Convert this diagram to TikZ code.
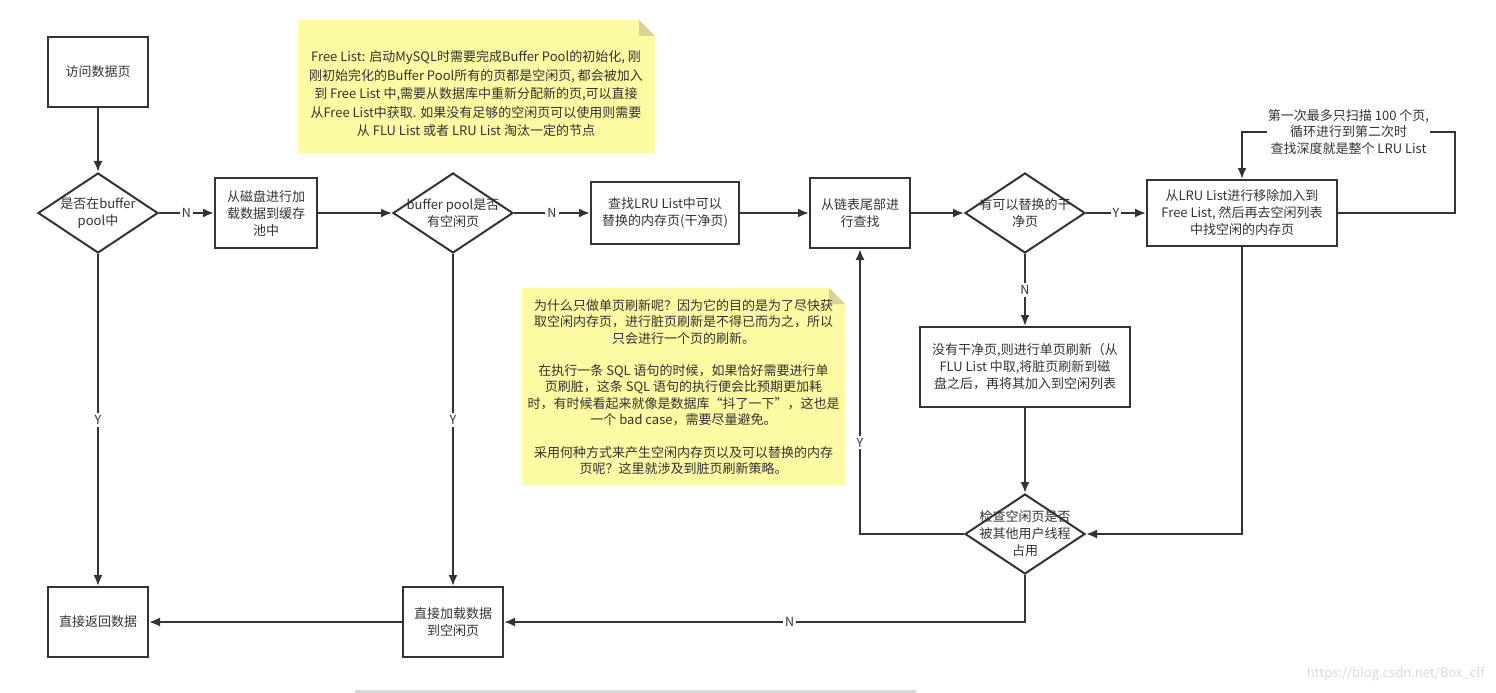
\documentclass[tikz,border=0pt]{standalone}
\usepackage{fontspec}
\setmainfont{Noto Sans CJK SC}
\usepackage{tikz}
\usetikzlibrary{arrows.meta,shapes.geometric}
\definecolor{ink}{RGB}{51,51,51}
\definecolor{notefill}{RGB}{252,250,162}
\definecolor{notefold}{RGB}{214,212,150}

\begin{document}
\begin{tikzpicture}
			[x=1pt,y=-1pt,
			every node/.style={font=\fontsize{13pt}{17pt}\selectfont,text=ink},
			proc/.style={rectangle,draw=ink,line width=2pt,fill=white,align=center,inner sep=2pt},
			decide/.style={diamond,draw=ink,line width=2pt,fill=white,minimum width=120pt,minimum height=80pt,inner sep=0pt},
			yn/.style={fill=white,inner sep=2pt,font=\fontsize{12.5pt}{14pt}\selectfont},
			edge/.style={->,>={Latex[length=11pt,width=9pt]},draw=ink,line width=2pt}]
			\useasboundingbox (0,0) rectangle (1496,693);

			% yellow notes
			\fill[notefill] (298,20) -- (639,20) -- (655,36) -- (655,153) -- (298,153) -- cycle;
			\fill[notefold] (639,20) -- (655,36) -- (639,36) -- cycle;
			\node[align=center,font=\fontsize{13pt}{18.5pt}\selectfont] (freenote) at (476,94)
			{Free List: 启动MySQL时需要完成Buffer Pool的初始化, 刚\\
			刚初始完化的Buffer Pool所有的页都是空闲页, 都会被加入\\
			到 Free List 中,需要从数据库中重新分配新的页,可以直接\\
			从Free List中获取. 如果没有足够的空闲页可以使用则需要\\
			从 FLU List 或者 LRU List 淘汰一定的节点};
			\fill[notefill] (522,288) -- (829,288) -- (845,304) -- (845,485) -- (522,485) -- cycle;
			\fill[notefold] (829,288) -- (845,304) -- (829,304) -- cycle;
			\node[align=center,font=\fontsize{13pt}{16.4pt}\selectfont] (flushnote) at (683.5,387)
			{为什么只做单页刷新呢？因为它的目的是为了尽快获\\
			取空闲内存页，进行脏页刷新是不得已而为之，所以\\
			只会进行一个页的刷新。\\[16pt]
			在执行一条 SQL 语句的时候，如果恰好需要进行单\\
			页刷脏，这条 SQL 语句的执行便会比预期更加耗\\
			时，有时候看起来就像是数据库“抖了一下”，这也是\\
			一个 bad case，需要尽量避免。\\[16pt]
			采用何种方式来产生空闲内存页以及可以替换的内存\\
			页呢？这里就涉及到脏页刷新策略。};

			% steps and decisions
			\node[proc,minimum width=100pt,minimum height=70pt] (acc) at (98,72) {访问数据页};
			\node[decide,label={[align=center]center:{是否在buffer\\pool中}}] (inbuf) at (98,213) {};
			\node[proc,minimum width=102pt,minimum height=70pt] (load) at (266,213) {从磁盘进行加\\载数据到缓存\\池中};
			\node[decide,label={[align=center]center:{buffer pool是否\\有空闲页}}] (hasfree) at (453,213) {};
			\node[proc,minimum width=148pt,minimum height=62pt] (lru) at (665,213) {查找LRU List中可以\\替换的内存页(干净页)};
			\node[proc,minimum width=100pt,minimum height=70pt] (tail) at (860,213) {从链表尾部进\\行查找};
			\node[decide,label={[align=center]center:{有可以替换的干\\净页}}] (clean) at (1025,213) {};
			\node[proc,minimum width=190pt,minimum height=66pt] (rem) at (1242,213) {从LRU List进行移除加入到\\Free List, 然后再去空闲列表\\中找空闲的内存页};
			\node[proc,minimum width=210pt,minimum height=80pt] (flush) at (1025,367) {没有干净页,则进行单页刷新（从\\FLU List 中取,将脏页刷新到磁\\盘之后，再将其加入到空闲列表};
			\node[decide,label={[align=center]center:{检查空闲页是否\\被其他用户线程\\占用}}] (check) at (1025,534) {};
			\node[proc,minimum width=100pt,minimum height=70pt] (ret) at (98,622) {直接返回数据};
			\node[proc,minimum width=100pt,minimum height=70pt] (direct) at (453,622) {直接加载数据\\到空闲页};

			\foreach \from/\to in {acc/inbuf,load/hasfree,lru/tail,tail/clean,flush/check,direct/ret}
			\draw[edge] (\from) to (\to);
			\foreach \from/\to/\lab in {inbuf/load/N,hasfree/lru/N,clean/rem/Y,inbuf/ret/Y,hasfree/direct/Y,clean/flush/N}
			\draw[edge] (\from) to node[yn] {\lab} (\to);

			\draw[edge] (check.west) -| node[yn,pos=0.66] {Y} (tail.south);
			\draw[edge] (check.south) |- node[yn,pos=0.726] {N} (direct.east);
			\draw[edge] (rem.south) |- (check.east);
			\coordinate (loop) at (1455,132);
			\draw[edge] (rem.east) -| (loop) -| node[pos=0.25,fill=white,inner sep=1pt,align=center,font=\fontsize{13pt}{16.3pt}\selectfont]
			{第一次最多只扫描 100 个页,\\循环进行到第二次时\\查找深度就是整个 LRU List} (rem.north);

			% page footer
			\fill[gray!30] (355,689.5) rectangle (916,693);
			\node[anchor=east,text=gray!30] (mark) at (1488,674) {https://blog.csdn.net/Box\_clf};

			\end{tikzpicture}
\end{document}
